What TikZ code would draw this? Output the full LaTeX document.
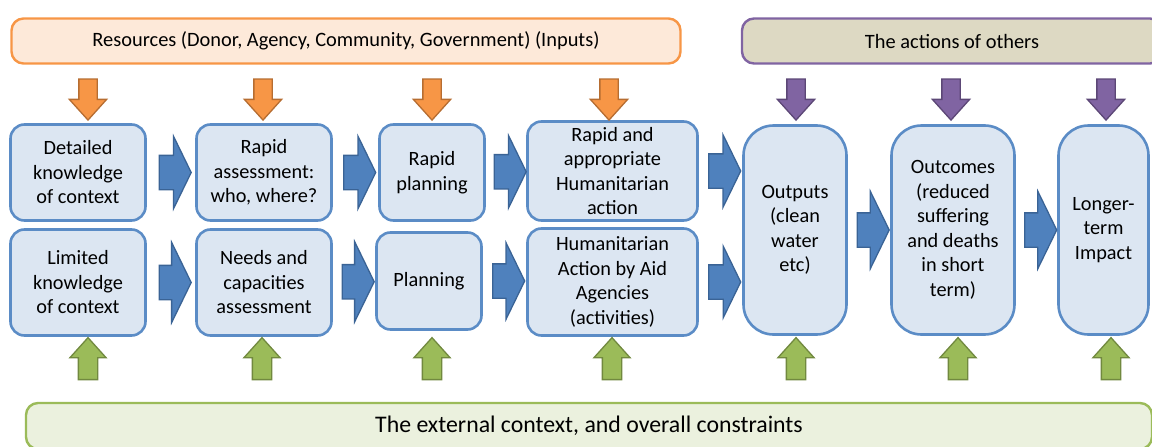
\documentclass[tikz,border=0pt]{standalone}
\usepackage{fontspec}
\setmainfont{Carlito}
\usetikzlibrary{shapes.arrows,calc,positioning}

\definecolor{boxfill}{HTML}{DCE6F2}
\definecolor{boxline}{HTML}{5B8CC6}
\definecolor{bluefill}{HTML}{4F81BD}
\definecolor{blueline}{HTML}{3A6395}
\definecolor{orfill}{HTML}{F79646}
\definecolor{orline}{HTML}{B66D31}
\definecolor{orbox}{HTML}{FDE9D9}
\definecolor{pufill}{HTML}{8064A2}
\definecolor{puline}{HTML}{5C4776}
\definecolor{pubox}{HTML}{DDD9C3}
\definecolor{grfill}{HTML}{9BBB59}
\definecolor{grline}{HTML}{71893F}
\definecolor{grbox}{HTML}{EBF1DE}

\begin{document}
\begin{tikzpicture}[x=1pt,y=-1pt,
 box/.style={draw=boxline, fill=boxfill, line width=2.6pt, rounded corners=14pt, align=center, inner sep=0pt, font=\fontsize{20.3}{24.5}\selectfont},
 tall/.style={box, rounded corners=30pt, minimum height=209pt},
 band/.style={line width=2.4pt, rounded corners=12pt, minimum height=45pt, inner sep=0pt, font=\fontsize{20.4}{24.5}\selectfont},
 blk/.style={single arrow, inner xsep=0pt, line width=1.3pt},
 rarr/.style={blk, draw=blueline, fill=bluefill, minimum height=32pt, inner ysep=16.5pt, single arrow head extend=(#1-33pt)/2, single arrow tip angle=128},
 varr/.style={blk, minimum height=41pt, inner ysep=8.5pt, single arrow head extend=9.5pt, single arrow tip angle=84},
 oarr/.style={varr, draw=orline, fill=orfill, rotate=-90},
 parr/.style={varr, draw=puline, fill=pufill, rotate=-90},
 garr/.style={varr, draw=grline, fill=grfill, rotate=90, minimum height=42pt, inner ysep=9pt, single arrow head extend=8.5pt}
]
 \useasboundingbox (0,0) rectangle (1152,447);
 \clip (0,0) rectangle (1152,447);

 % bands
 \node[band, draw=orfill, fill=orbox, minimum width=669pt] (res) at (346,41) {Resources (Donor, Agency, Community, Government) (Inputs)};
 \node[band, draw=pufill, fill=pubox, minimum width=420pt] (oth) at (952,41) {The actions of others};
 \node[band, draw=grfill, fill=grbox, minimum width=1126pt, minimum height=46pt, font=\fontsize{23.8}{28}\selectfont] (ctx) at (589,426) {The external context, and overall constraints};

 % top row
 \node[box, minimum width=135pt, minimum height=96pt] (t1) at (78,172.5) {Detailed\\knowledge\\of context};
 \node[box, minimum width=135pt, minimum height=96pt] (t2) at (264,172.5) {Rapid\\assessment:\\who, where?};
 \node[box, minimum width=105pt, minimum height=96pt] (t3) at (432,172.5) {Rapid\\planning};
 \node[box, minimum width=170pt, minimum height=99pt] (t4) at (612.5,171) {Rapid and\\appropriate\\Humanitarian\\action};

 % bottom row
 \node[box, minimum width=135pt, minimum height=106pt] (b1) at (78,282.5) {Limited\\knowledge\\of context};
 \node[box, minimum width=135pt, minimum height=106pt] (b2) at (264,282.5) {Needs and\\capacities\\assessment};
 \node[box, minimum width=105pt, minimum height=97pt] (b3) at (429,281) {Planning};
 \node[box, minimum width=170pt, minimum height=107pt] (b4) at (612.5,282) {Humanitarian\\Action by Aid\\Agencies\\(activities)};

 % results
 \node[tall, minimum width=103pt] (out) at (795,230) {Outputs\\(clean\\water\\etc)};
 \node[tall, minimum width=123pt] (outc) at (953,230) {Outcomes\\(reduced\\suffering\\and deaths\\in short\\term)};
 \node[tall, minimum width=90pt] (imp) at (1103.5,230) {Longer-\\term\\Impact};

 % flow arrows
 \node[rarr=71pt] (h1) at ($(t1.east)!0.5!(t2.west)$) {};
 \node[rarr=71pt] (h2) at ($(t2.east)!0.5!(t3.west)$) {};
 \node[rarr=71pt] (h3) at ($(t3.east)!0.5!(t4.west)$) {};
 \node[rarr=71pt] (h4) at ($(t4.east)!0.5!(t4.east -| out.west)$) {};
 \node[rarr=79pt] (k1) at ($(b1.east)!0.5!(b2.west)$) {};
 \node[rarr=79pt] (k2) at ($(b2.east)!0.5!(b3.west)$) {};
 \node[rarr=75pt] (k3) at ($(b3.east)!0.5!(b3.east -| b4.west)$) {};
 \node[rarr=70pt] (k4) at ($(b4.east)!0.5!(b4.east -| out.west)$) {};
 \node[rarr=76pt] (m1) at ($(out.east)!0.5!(outc.west)$) {};
 \node[rarr=76pt] (m2) at ($(outc.east)!0.5!(imp.west)$) {};

 % inputs
 \node[oarr] (o1) at (88,94.5) {};
 \node[oarr] (o2) at (263,94.5) {};
 \node[oarr] (o3) at (432,94.5) {};
 \node[oarr] (o4) at (609,94.5) {};
 \node[parr] (p1) at (796,94.5) {};
 \node[parr] (p2) at (951,94.5) {};
 \node[parr] (p3) at (1106,94.5) {};

 % context
 \node[garr] (g1) at (88,364) {};
 \node[garr] (g2) at (262,364) {};
 \node[garr] (g3) at (432,364) {};
 \node[garr] (g4) at (612,364) {};
 \node[garr] (g5) at (796,364) {};
 \node[garr] (g6) at (958,364) {};
 \node[garr] (g7) at (1111,364) {};
\end{tikzpicture}
\end{document}
